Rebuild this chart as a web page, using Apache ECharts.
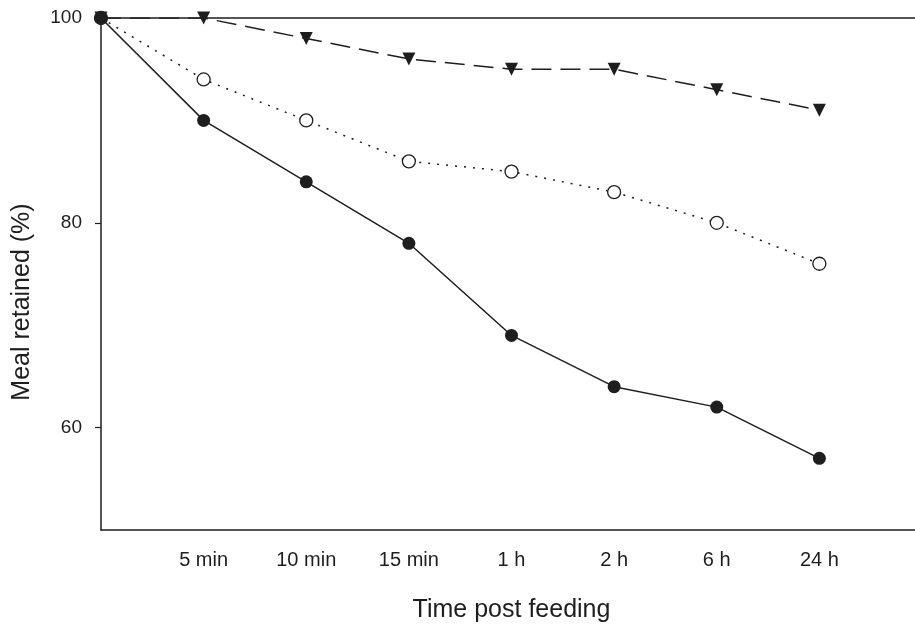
<!DOCTYPE html>
<html>
<head>
<meta charset="utf-8">
<script src="https://cdn.jsdelivr.net/npm/echarts@6/dist/echarts.min.js"></script>
<style>
  html, body { margin: 0; padding: 0; background: #fff; }
  #chart { width: 915px; height: 627px; }
</style>
</head>
<body>
<div id="chart"></div>
<script>
// Sampling times (index 0 is the moment of feeding, left unlabelled)
const timeLabels = ['', '5 min', '10 min', '15 min', '1 h', '2 h', '6 h', '24 h'];
// Meal retained (%) per group
const filledCircles = [100, 90, 84, 78, 69, 64, 62, 57];
const openCircles   = [100, 94, 90, 86, 85, 83, 80, 76];
const triangles     = [100, 100, 98, 96, 95, 95, 93, 91];
const yTickValues = [60, 80, 100];

const ink = '#1e1e1e';
const font = 'Liberation Sans, Arial, sans-serif';

function pairs(values) {
  return values.map((v, i) => [i, v]);
}

const chart = echarts.init(document.getElementById('chart'));
chart.setOption({
  backgroundColor: '#fff',
  animation: false,
  grid: { left: 101, right: -7, top: 18, bottom: 97, containLabel: false, outerBoundsMode: 'none' },
  xAxis: [{
    type: 'value',
    min: 0,
    max: 8,
    interval: 1,
    name: 'Time post feeding',
    nameLocation: 'middle',
    nameGap: 68,
    nameTextStyle: { fontFamily: font, fontSize: 25, color: ink },
    axisLine: { lineStyle: { color: ink, width: 1.5 } },
    axisTick: { show: false },
    splitLine: { show: false },
    axisLabel: {
      margin: 20,
      fontFamily: font,
      fontSize: 20,
      color: ink,
      formatter: v => timeLabels[v] || ''
    }
  }, {
    type: 'value',
    position: 'top',
    min: 0,
    max: 8,
    axisLine: { show: true, lineStyle: { color: ink, width: 1.5 } },
    axisTick: { show: false },
    axisLabel: { show: false },
    splitLine: { show: false }
  }],
  yAxis: {
    type: 'value',
    min: 50,
    max: 100,
    interval: 10,
    name: 'Meal retained (%)',
    nameLocation: 'middle',
    nameGap: 66,
    nameRotate: 90,
    nameTextStyle: { fontFamily: font, fontSize: 25, color: ink, padding: [0, 56, 0, 0] },
    axisLine: { show: true, lineStyle: { color: ink, width: 1.5 } },
    axisTick: { show: true, inside: false, length: 6, customValues: yTickValues, lineStyle: { color: ink, width: 1.2 } },
    splitLine: { show: false },
    axisLabel: {
      margin: 19,
      fontFamily: font,
      fontSize: 19,
      color: ink,
      customValues: yTickValues
    }
  },
  series: [{
    name: 'open',
    type: 'line',
    data: pairs(openCircles),
    symbol: 'circle',
    symbolSize: 13,
    itemStyle: { color: '#fff', borderColor: ink, borderWidth: 1.3 },
    lineStyle: { color: ink, width: 1.5, type: [2, 7] },
    z: 2
  }, {
    name: 'triangle',
    type: 'line',
    data: pairs(triangles),
    symbol: 'triangle',
    symbolRotate: 180,
    symbolSize: 13,
    itemStyle: { color: ink },
    lineStyle: { color: ink, width: 1.5, type: [20, 9] },
    z: 3
  }, {
    name: 'filled',
    type: 'line',
    data: pairs(filledCircles),
    symbol: 'circle',
    symbolSize: 13,
    itemStyle: { color: ink },
    lineStyle: { color: ink, width: 1.5 },
    z: 4
  }]
});
</script>
</body>
</html>
